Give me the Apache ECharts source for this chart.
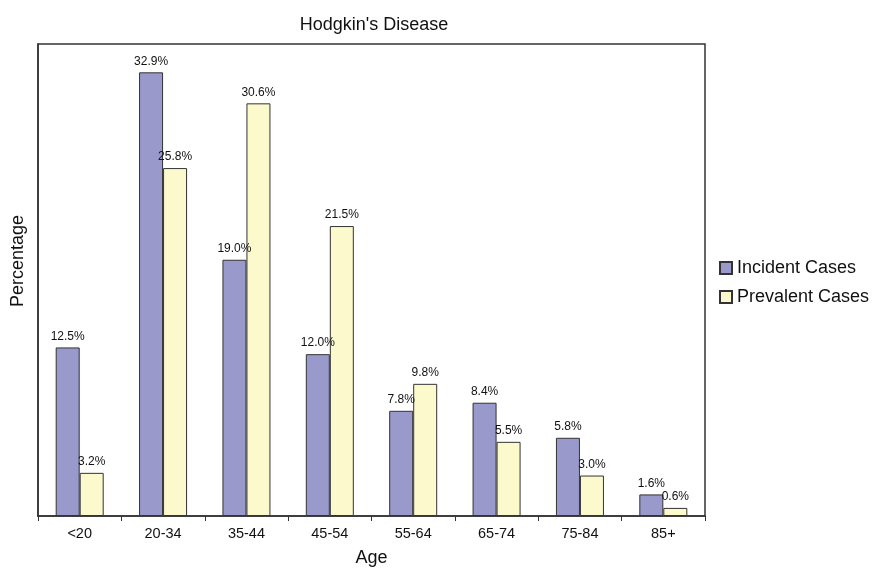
<!DOCTYPE html>
<html><head><meta charset="utf-8">
<script src="https://cdn.jsdelivr.net/npm/echarts@6/dist/echarts.min.js"></script>
<style>html,body{margin:0;padding:0;background:#fff}#c{width:872px;height:569px}</style>
</head><body><div id="c"></div>
<script>
const categories = ['<20','20-34','35-44','45-54','55-64','65-74','75-84','85+'];
const incident = [12.5, 32.9, 19.0, 12.0, 7.8, 8.4, 5.8, 1.6];
const prevalent = [3.2, 25.8, 30.6, 21.5, 9.8, 5.5, 3.0, 0.6];
const seriesNames = ['Incident Cases', 'Prevalent Cases'];

const chart = echarts.init(document.getElementById('c'));
const font = 'Liberation Sans, Arial, sans-serif';
const lbl = {show:true, position:'top', distance:5, fontSize:12, color:'#111', fontFamily:font,
  formatter: p => p.value.toFixed(1) + '%'};
chart.setOption({
  animation:false,
  textStyle:{fontFamily:font},
  title:{text:"Hodgkin's Disease", left:369, top:11, textAlign:'center',
    textStyle:{fontSize:18, fontWeight:'normal', color:'#111', fontFamily:font}},
  legend:{orient:'vertical', left:714, top:254, itemWidth:12, itemHeight:12, itemGap:11,
    icon:'rect', textStyle:{fontSize:18, color:'#111', fontFamily:font}, data:seriesNames},
  grid:{left:38, right:167, top:44, bottom:53, show:true, borderColor:'#333', borderWidth:1.5,
    outerBoundsMode:'none', containLabel:false},
  graphic:[{type:'text', x:18, y:261, rotation:Math.PI/2,
    style:{text:'Percentage', fontSize:18, fill:'#111', fontFamily:font, align:'center', verticalAlign:'middle'}}],
  xAxis:{type:'category', data:categories, name:'Age', nameLocation:'middle', nameGap:33,
    nameTextStyle:{fontSize:18, color:'#111'},
    axisLine:{lineStyle:{color:'#333', width:1.5}},
    axisTick:{show:true, length:5, lineStyle:{color:'#333'}},
    axisLabel:{fontSize:14.5, color:'#111', margin:10}},
  yAxis:{type:'value', min:0, max:35,
    axisLine:{show:true, lineStyle:{color:'#333', width:1.5}}, axisTick:{show:false},
    axisLabel:{show:false}, splitLine:{show:false}},
  series:[
    {name:seriesNames[0], type:'bar', data:incident, barWidth:24, barGap:'0%',
     itemStyle:{color:'#9999cc', borderColor:'#333', borderWidth:1}, label:lbl},
    {name:seriesNames[1], type:'bar', data:prevalent, barWidth:24, barGap:'0%',
     itemStyle:{color:'#fcfacd', borderColor:'#333', borderWidth:1}, label:lbl}
  ]
});
</script></body></html>
